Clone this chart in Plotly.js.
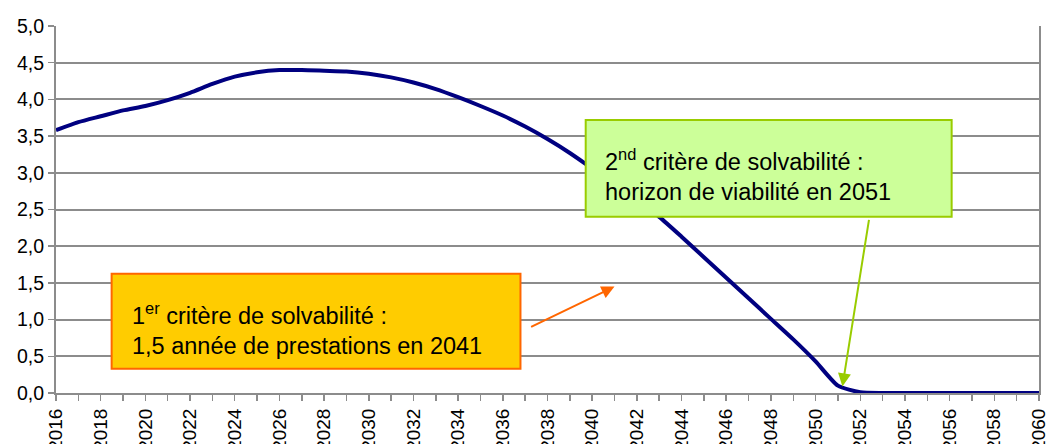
<!DOCTYPE html>
<html>
<head>
<meta charset="utf-8">
<script src="https://cdn.plot.ly/plotly-3.0.1.min.js"></script>
<style>
html,body{margin:0;padding:0;background:#fff;}
#chart{width:1051px;height:444px;}
</style>
</head>
<body>
<div id="chart"></div>
<script>
// Years (x axis)
const years = [];
for (let y = 2016; y <= 2060; y++) years.push(y);

// Reserve ratio (years of benefits)
const reserves = [
  3.58, 3.69, 3.77, 3.85, 3.91, 3.99, 4.09, 4.21, 4.31, 4.37,
  4.40, 4.40, 4.39, 4.38, 4.35, 4.30, 4.23, 4.14, 4.03, 3.91,
  3.78, 3.63, 3.46, 3.27, 3.06, 2.85, 2.63, 2.40, 2.13, 1.85,
  1.57, 1.29, 1.01, 0.73, 0.43, 0.10, 0.01, 0.00, 0.00, 0.00,
  0.00, 0.00, 0.00, 0.00, 0.00
];

// Tick labels
const xTickVals = [];
for (let y = 2016; y <= 2060; y += 2) xTickVals.push(y);
const xTickText = xTickVals.map(String);
const yTickVals = [0, 0.5, 1, 1.5, 2, 2.5, 3, 3.5, 4, 4.5, 5];
const yTickText = yTickVals.map(v => v.toFixed(1).replace('.', ','));

// Annotation texts
const note1 = "1<sup>er</sup> critère de solvabilité :<br>1,5 année de prestations en 2041";
const note2 = "2<sup>nd</sup> critère de solvabilité :<br>horizon de viabilité en 2051";

const FONT = "Liberation Sans, Arial, sans-serif";
const GRID = "#8c8c8c";

const trace = {
  x: years,
  y: reserves,
  type: "scatter",
  mode: "lines",
  line: { color: "#000080", width: 4, shape: "spline", smoothing: 0.6 },
  hoverinfo: "skip",
  showlegend: false
};

const layout = {
  width: 1051,
  height: 444,
  margin: { l: 56, r: 12, t: 26, b: 51 },
  paper_bgcolor: "#ffffff",
  plot_bgcolor: "#ffffff",
  font: { family: FONT, color: "#000", size: 19 },
  showlegend: false,
  xaxis: {
    range: [2016, 2060],
    tickmode: "array",
    tickvals: xTickVals,
    ticktext: xTickText,
    tickangle: -90,
    ticks: "outside",
    ticklen: 6,
    tickcolor: GRID,
    tickwidth: 1.5,
    minor: { dtick: 1, tick0: 2016, ticks: "outside", ticklen: 6, tickcolor: GRID, tickwidth: 1.5, showgrid: false },
    showgrid: false,
    zeroline: false,
    showline: true,
    linecolor: GRID,
    linewidth: 2,
    tickfont: { family: FONT, size: 19, color: "#000" },
    fixedrange: true
  },
  yaxis: {
    range: [0, 5],
    tickmode: "array",
    tickvals: yTickVals,
    ticktext: yTickText,
    ticks: "outside",
    ticklen: 6,
    tickcolor: GRID,
    tickwidth: 1.5,
    showgrid: true,
    gridcolor: GRID,
    gridwidth: 2,
    zeroline: false,
    showline: true,
    mirror: true,
    linecolor: GRID,
    linewidth: 2,
    tickfont: { family: FONT, size: 19.5, color: "#000" },
    fixedrange: true
  },
  shapes: [
    {
      type: "rect", xref: "x", yref: "y", layer: "above",
      x0: 2018.49, x1: 2036.79, y0: 0.331, y1: 1.624,
      fillcolor: "#FFCC00", line: { color: "#FF6600", width: 2 }
    },
    {
      type: "rect", xref: "x", yref: "y", layer: "above",
      x0: 2039.71, x1: 2056.09, y0: 2.40, y1: 3.72,
      fillcolor: "#CCFF99", line: { color: "#99CC00", width: 2 }
    }
  ],
  annotations: [
    {
      xref: "x", yref: "y", x: 2019.3, y: 0.87,
      xanchor: "left", yanchor: "middle", align: "left",
      text: note1, showarrow: false,
      font: { family: FONT, size: 23.5, color: "#000" }
    },
    {
      xref: "x", yref: "y", x: 2040.5, y: 2.97,
      xanchor: "left", yanchor: "middle", align: "left",
      text: note2, showarrow: false,
      font: { family: FONT, size: 23.5, color: "#000" }
    },
    {
      xref: "x", yref: "y", axref: "x", ayref: "y",
      x: 2041.0, y: 1.45, ax: 2037.2, ay: 0.89,
      text: "", showarrow: true, arrowhead: 2, arrowsize: 1.3,
      arrowwidth: 2, arrowcolor: "#FF6600"
    },
    {
      xref: "x", yref: "y", axref: "x", ayref: "y",
      x: 2051.2, y: 0.09, ax: 2052.4, ay: 2.38,
      text: "", showarrow: true, arrowhead: 2, arrowsize: 1.3,
      arrowwidth: 2, arrowcolor: "#99CC00"
    }
  ]
};

Plotly.newPlot("chart", [trace], layout, { staticPlot: true, displayModeBar: false });
</script>
</body>
</html>
